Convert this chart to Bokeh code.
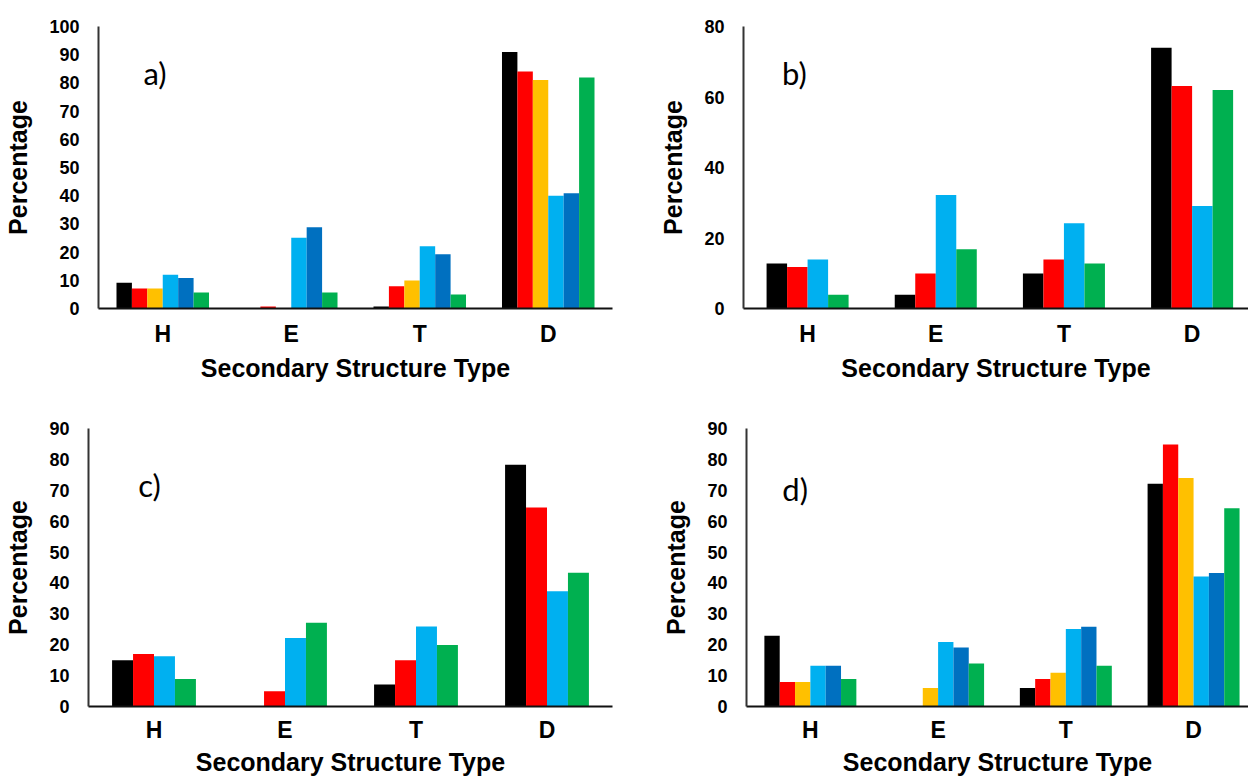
from bokeh.plotting import figure
from bokeh.models import Range1d, FixedTicker, Label
from bokeh.layouts import column, row
from bokeh.embed import file_html
from bokeh.resources import INLINE

# ---------------- data ----------------
categories = ["H", "E", "T", "D"]

colors6 = ["#000000", "#FF0000", "#FFC000", "#00B0F0", "#0070C0", "#00B050"]
colors4 = ["#000000", "#FF0000", "#00B0F0", "#00B050"]

# panel a (6 series)
a_black = [9.1, 0.0, 0.7, 91.0]
a_red = [7.1, 0.7, 7.9, 84.0]
a_orange = [7.1, 0.0, 9.9, 81.0]
a_lightblue = [12.0, 25.1, 22.1, 40.0]
a_darkblue = [10.8, 28.8, 19.2, 40.9]
a_green = [5.7, 5.7, 5.0, 81.9]

# panel b (4 series)
b_black = [12.8, 3.9, 9.9, 74.0]
b_red = [11.8, 9.9, 13.9, 63.1]
b_lightblue = [13.9, 32.2, 24.2, 29.1]
b_green = [3.9, 16.8, 12.8, 62.0]

# panel c (4 series)
c_black = [15.0, 0.0, 7.1, 78.3]
c_red = [17.0, 4.9, 15.0, 64.4]
c_lightblue = [16.3, 22.2, 25.9, 37.3]
c_green = [8.9, 27.1, 19.9, 43.3]

# panel d (6 series)
d_black = [22.9, 0.0, 6.0, 72.1]
d_red = [7.9, 0.0, 8.9, 84.8]
d_orange = [7.9, 6.0, 10.9, 74.0]
d_lightblue = [13.2, 20.9, 25.1, 42.1]
d_darkblue = [13.2, 19.1, 25.8, 43.2]
d_green = [8.9, 13.9, 13.2, 64.2]

a_yticks = list(range(0, 101, 10))
b_yticks = list(range(0, 81, 20))
c_yticks = list(range(0, 91, 10))
d_yticks = list(range(0, 91, 10))

FONT = "Liberation Sans"


def panel(series, colors, yticks, w, h, left, right, top, bottom, xend,
          tag, tag_x, tag_y, bw, xstand, xlabstand):
    p = figure(width=w, height=h, output_backend="svg", toolbar_location=None,
               x_range=Range1d(0, xend), y_range=Range1d(0, yticks[-1]),
               min_border_left=left, min_border_right=right,
               min_border_top=top, min_border_bottom=bottom)
    p.outline_line_color = None
    p.background_fill_color = "white"
    p.border_fill_color = "white"
    p.xgrid.visible = False
    p.ygrid.visible = False
    n = len(series)
    for k, (vals, col) in enumerate(zip(series, colors)):
        off = (k - (n - 1) / 2) * bw
        xs = [i + 0.5 + off for i in range(len(categories))]
        p.vbar(x=xs, top=vals, bottom=0, width=bw, fill_color=col, line_color=None)

    # x axis
    xa = p.xaxis[0]
    centers = [i + 0.5 for i in range(len(categories))]
    xa.ticker = FixedTicker(ticks=centers)
    xa.major_label_overrides = {c: lab for c, lab in zip(centers, categories)}
    xa.major_tick_line_color = None
    xa.minor_tick_line_color = None
    xa.major_tick_out = 0
    xa.major_tick_in = 0
    xa.axis_line_color = "#111111"
    xa.axis_line_width = 2
    xa.major_label_text_font = FONT
    xa.major_label_text_font_style = "bold"
    xa.major_label_text_font_size = "23px"
    xa.major_label_text_color = "black"
    xa.major_label_standoff = xstand
    xa.axis_label = "Secondary Structure Type"
    xa.axis_label_text_font = FONT
    xa.axis_label_text_font_style = "bold"
    xa.axis_label_text_font_size = "25px"
    xa.axis_label_text_color = "black"
    xa.axis_label_standoff = xlabstand

    # y axis
    ya = p.yaxis[0]
    ya.ticker = FixedTicker(ticks=yticks)
    ya.major_tick_line_color = None
    ya.minor_tick_line_color = None
    ya.major_tick_out = 0
    ya.major_tick_in = 0
    ya.axis_line_color = "#333333"
    ya.axis_line_width = 2
    ya.major_label_text_font = FONT
    ya.major_label_text_font_style = "bold"
    ya.major_label_text_font_size = "18px"
    ya.major_label_text_color = "black"
    ya.major_label_standoff = 19
    ya.axis_label = "Percentage"
    ya.axis_label_text_font = FONT
    ya.axis_label_text_font_style = "bold"
    ya.axis_label_text_font_size = "25px"
    ya.axis_label_text_color = "black"
    ya.axis_label_standoff = 14

    p.add_layout(Label(x=tag_x, y=tag_y, text=tag, text_font="Lato",
                       text_font_size="31px", text_color="black",
                       text_align="left", text_baseline="middle"))
    return p


pa = panel([a_black, a_red, a_orange, a_lightblue, a_darkblue, a_green], colors6,
           a_yticks, 624, 390, 98, 12, 22, 82, 4.0, "a)", 0.35, 83.5, 0.12, 12, 4)
pb = panel([b_black, b_red, b_lightblue, b_green], colors4,
           b_yticks, 624, 390, 119, 0, 26, 79, 3.94, "b)", 0.30, 66.8, 0.16, 12, 4)
pc = panel([c_black, c_red, c_lightblue, c_green], colors4,
           c_yticks, 624, 388, 88, 12, 38, 68, 4.0, "c)", 0.38, 71.8, 0.16, 10, 2)
pd_ = panel([d_black, d_red, d_orange, d_lightblue, d_darkblue, d_green], colors6,
            d_yticks, 624, 388, 122, 0, 33, 69, 3.93, "d)", 0.28, 70.5, 0.12, 10, 2)

layout = column(row(pa, pb, spacing=0), row(pc, pd_, spacing=0), spacing=0)

open("out.html", "w").write(file_html(layout, INLINE))
